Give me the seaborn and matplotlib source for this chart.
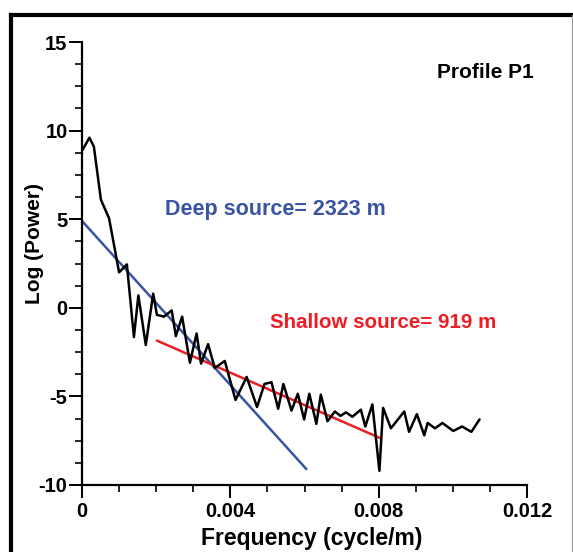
import matplotlib
matplotlib.use("Agg")
import matplotlib.pyplot as plt
from matplotlib.lines import Line2D
from matplotlib.ticker import AutoMinorLocator
import seaborn as sns
import pandas as pd

# ---- data ----
freq = [0.0, 0.00020, 0.00032, 0.00051, 0.00073, 0.00100, 0.00121, 0.00140,
        0.00152, 0.00172, 0.00192, 0.00202, 0.00221, 0.00242, 0.00253, 0.00270,
        0.00291, 0.00309, 0.00321, 0.00340, 0.00358, 0.00385, 0.00414, 0.00444,
        0.00472, 0.00492, 0.00511, 0.00529, 0.00543, 0.00565, 0.00582, 0.00599,
        0.00613, 0.00632, 0.00644, 0.00662, 0.00682, 0.00697, 0.00712, 0.00729,
        0.00752, 0.00764, 0.00783, 0.00802, 0.00812, 0.00833, 0.00869, 0.00882,
        0.00903, 0.00923, 0.00932, 0.00952, 0.00972, 0.01001, 0.01025, 0.01050,
        0.01072]
log_power = [8.85, 9.6, 9.1, 6.1, 5.05, 2.0, 2.45, -1.65, 0.7, -2.1, 0.8, -0.4,
             -0.5, -0.15, -1.6, -0.5, -3.1, -1.45, -3.15, -2.05, -3.4, -3.0,
             -5.2, -3.9, -5.6, -4.3, -4.2, -5.7, -4.3, -5.8, -4.85, -6.3, -4.85,
             -6.55, -4.9, -6.4, -5.85, -6.1, -5.9, -6.15, -5.75, -6.7, -5.45,
             -9.2, -5.65, -6.8, -5.85, -7.0, -6.0, -7.2, -6.5, -6.8, -6.5,
             -6.95, -6.7, -7.0, -6.3]

deep_x = [0.0, 0.00605]
deep_y = [4.9, -9.1]
shallow_x = [0.00202, 0.00804]
shallow_y = [-1.85, -7.35]

x_ticks = [0, 0.004, 0.008, 0.012]
x_tick_labels = ["0", "0.004", "0.008", "0.012"]
y_ticks = [-10, -5, 0, 5, 10, 15]
y_tick_labels = ["-10", "-5", "0", "5", "10", "15"]

title_text = "Profile P1"
deep_text = "Deep source= 2323 m"
shallow_text = "Shallow source= 919 m"
x_label = "Frequency (cycle/m)"
y_label = "Log (Power)"

BLUE = "#3a54a4"
RED = "#ee1d23"

# ---- figure ----
sns.set_theme(style="ticks")
plt.rcParams["font.family"] = ["Liberation Sans", "DejaVu Sans"]
plt.rcParams["font.weight"] = "bold"

fig = plt.figure(figsize=(5.73, 5.52), dpi=100)
ax = fig.add_axes([82 / 573, 1 - 485 / 552, (527 - 82) / 573, (485 - 42) / 552])

spec = pd.DataFrame({"f": freq, "p": log_power})
deep = pd.DataFrame({"f": deep_x, "p": deep_y})
shallow = pd.DataFrame({"f": shallow_x, "p": shallow_y})

sns.lineplot(data=deep, x="f", y="p", ax=ax, color=BLUE, lw=1.8, sort=False)
sns.lineplot(data=shallow, x="f", y="p", ax=ax, color=RED, lw=1.8, sort=False)
sns.lineplot(data=spec, x="f", y="p", ax=ax, color="black", lw=1.8, sort=False)

ax.set_xlim(0, 0.012)
ax.set_ylim(-10, 15)
ax.set_xticks(x_ticks)
ax.set_xticklabels(x_tick_labels)
ax.set_yticks(y_ticks)
ax.set_yticklabels(y_tick_labels)
ax.xaxis.set_minor_locator(AutoMinorLocator(4))
ax.yaxis.set_minor_locator(AutoMinorLocator(4))

sns.despine(ax=ax)
for s in ["left", "bottom"]:
    ax.spines[s].set_linewidth(1.6)
    ax.spines[s].set_color("black")
ax.tick_params(which="major", direction="out", length=9.2, width=1.4,
               labelsize=14.5, colors="black")
ax.tick_params(axis="x", which="major", pad=3.2)
ax.tick_params(axis="y", which="major", pad=1.2)
ax.tick_params(which="minor", direction="out", length=5, width=1.2, colors="black")
for lab in ax.get_xticklabels() + ax.get_yticklabels():
    lab.set_fontweight("bold")

ax.set_xlabel("")
ax.set_ylabel("")
fig.text(311.5 / 573, 1 - 545.5 / 552, x_label, fontsize=16.5, fontweight="bold",
         ha="center", va="baseline", color="black")
fig.text(35 / 573, 1 - 243 / 552, y_label, fontsize=15, fontweight="bold",
         ha="center", va="center", rotation=90, color="black")

fig.text(485 / 573, 1 - 72 / 552, title_text, fontsize=15, fontweight="bold",
         ha="center", va="center", color="black")
fig.text(165 / 573, 1 - 210 / 552, deep_text, fontsize=15.5, fontweight="bold",
         ha="left", va="center", color=BLUE)
fig.text(270 / 573, 1 - 322 / 552, shallow_text, fontsize=14.8, fontweight="bold",
         ha="left", va="center", color=RED)

# outer frame
fy = 1 - 14.5 / 552
fx = 11 / 573
fig.add_artist(Line2D([fx, fx], [0, fy], transform=fig.transFigure,
                      color="black", lw=3, solid_capstyle="projecting"))
fig.add_artist(Line2D([fx, 1.0], [fy, fy], transform=fig.transFigure,
                      color="black", lw=3, solid_capstyle="projecting"))
fig.add_artist(Line2D([571.5 / 573, 571.5 / 573], [0, fy], transform=fig.transFigure,
                      color="#999999", lw=0.8))

fig.savefig("out.png", dpi=100)
